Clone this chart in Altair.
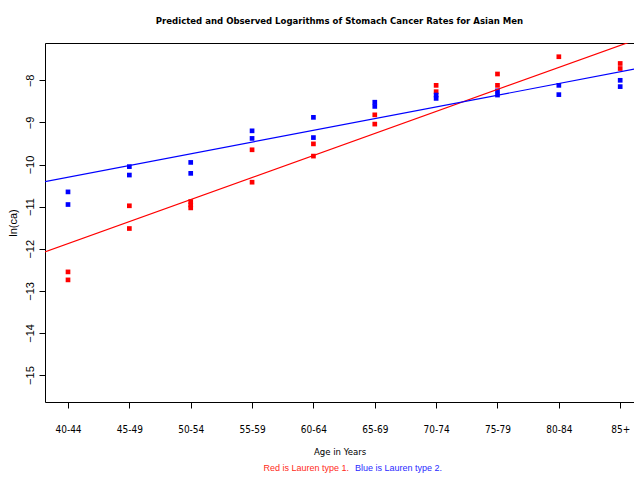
import json
import altair as alt
import pandas as pd

# ---- data ----
age_groups = ["40-44", "45-49", "50-54", "55-59", "60-64",
              "65-69", "70-74", "75-79", "80-84", "85+"]

red_obs = [[-12.55, -12.74], [-10.98, -11.52], [-10.88, -10.96, -11.03],
           [-9.65, -10.42], [-9.51, -9.80], [-8.82, -9.04],
           [-8.12, -8.27], [-7.85, -8.12], [-7.44], [-7.60, -7.72]]
blue_obs = [[-10.65, -10.95], [-10.05, -10.25], [-9.95, -10.21],
            [-9.20, -9.38], [-8.88, -9.36], [-8.52, -8.62],
            [-8.35, -8.43], [-8.25, -8.35], [-8.12, -8.34], [-8.00, -8.15]]

line_x = [-0.5, 9.5]
red_fit = [-12.14, -6.91]
blue_fit = [-10.44, -7.66]

series_names = ["Lauren type 1", "Lauren type 2"]
series_colors = ["#ff0000", "#0000ff"]

title_text = "Predicted and Observed Logarithms of Stomach Cancer Rates for Asian Men"
caption_red = "Red is Lauren type 1."
caption_blue = "Blue is Lauren type 2."

# ---- tables ----
rows = []
for name, obs in zip(series_names, [red_obs, blue_obs]):
    for i, vals in enumerate(obs):
        for v in vals:
            rows.append({"idx": i, "value": v, "series": name})
pts = pd.DataFrame(rows)

lrows = []
for name, fit in zip(series_names, [red_fit, blue_fit]):
    for x, y in zip(line_x, fit):
        lrows.append({"idx": x, "value": y, "series": name})
lines_df = pd.DataFrame(lrows)

W, H = 589, 359
xdom = [-0.375, 9.225]
ydom = [-15.64, -7.114]

label_expr = json.dumps(age_groups) + "[datum.value]"
narrow = "Liberation Sans Narrow, DejaVu Sans Condensed, Arial Narrow, sans-serif"
regular = "Liberation Sans, Arial, Helvetica, sans-serif"

color = alt.Color("series:N", scale=alt.Scale(domain=series_names, range=series_colors), legend=None)

xscale = alt.Scale(domain=xdom, nice=False, zero=False)
yscale = alt.Scale(domain=ydom, nice=False, zero=False)

x_bottom = alt.X("idx:Q", scale=xscale, title="Age in Years",
                 axis=alt.Axis(values=list(range(10)), labelExpr=label_expr,
                               labelFont=narrow, labelFontSize=10, labelColor="black",
                               tickSize=6, tickColor="black", labelPadding=16,
                               domainColor="black", grid=False,
                               titleFont=narrow, titleFontSize=9.5, titleFontWeight="normal",
                               titleColor="black", titlePadding=12))
y_left = alt.Y("value:Q", scale=yscale, title="ln(ca)",
               axis=alt.Axis(values=list(range(-15, -7)), labelAngle=270,
                             labelAlign="center", labelBaseline="middle",
                             labelFont=regular, labelFontSize=11, labelColor="black",
                             tickSize=6, tickColor="black", labelPadding=9,
                             domainColor="black", grid=False,
                             titleFont=regular, titleFontSize=11, titleFontWeight="normal",
                             titleColor="black", titlePadding=6))
y_plain = alt.Y("value:Q", scale=yscale)

points = alt.Chart(pts).mark_square(size=22, opacity=1).encode(
    x=x_bottom, y=y_left, color=color)

lines = alt.Chart(lines_df).mark_line(strokeWidth=1.2, clip=True).encode(
    x=alt.X("idx:Q", scale=xscale, axis=None),
    y=y_plain,
    color=color, detail="series:N")

top = alt.Chart(lines_df).mark_point(opacity=0).encode(
    x=alt.X("idx:Q", scale=xscale,
            axis=alt.Axis(orient="top", labels=False, ticks=False, title=None,
                          domainColor="black", grid=False)),
    y=y_plain)

cap_df = pd.DataFrame({"t": [caption_red, caption_blue]})
cap_red = alt.Chart(cap_df).transform_filter("datum.t == '%s'" % caption_red).mark_text(
    align="right", baseline="middle", font=regular, fontSize=9, color="#ff2a1a"
).encode(x=alt.value(304), y=alt.value(425), text="t:N")
cap_blue = alt.Chart(cap_df).transform_filter("datum.t == '%s'" % caption_blue).mark_text(
    align="left", baseline="middle", font=regular, fontSize=9, color="#2a2aff"
).encode(x=alt.value(310), y=alt.value(425), text="t:N")

chart = alt.layer(points, lines, top, cap_red, cap_blue).resolve_axis(
    x="independent"
).properties(
    width=W, height=H,
    title=alt.TitleParams(title_text, font=narrow, fontSize=9.5, fontWeight="bold",
                          color="black", anchor="middle", dx=0, offset=6),
    autosize=alt.AutoSizeParams(type="none"),
    padding={"left": 37, "top": 35, "right": 0, "bottom": 71},
).configure_view(stroke=None).configure(background="white")

chart.save("out.html", embed_options={"renderer": "svg", "actions": False})
